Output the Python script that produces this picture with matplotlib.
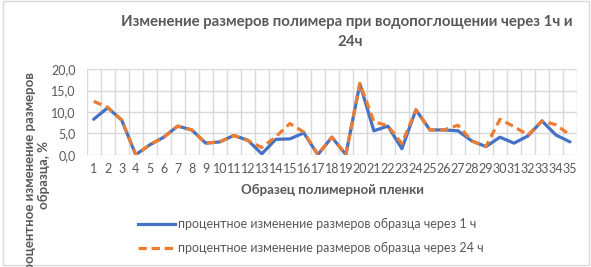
import matplotlib
matplotlib.use("Agg")
import matplotlib.pyplot as plt
from matplotlib.patches import Rectangle
from matplotlib.lines import Line2D

samples = [str(i) for i in range(1, 36)]
change_1h = [8.3, 11.0, 8.1, 0.0, 2.3, 4.1, 6.7, 5.8, 2.7, 3.0,
             4.5, 3.4, 0.2, 3.6, 3.7, 5.1, 0.0, 4.1, 0.0, 16.6,
             5.6, 6.7, 1.4, 10.5, 5.8, 5.8, 5.6, 3.2, 1.9, 4.1,
             2.7, 4.4, 7.9, 4.6, 3.0]
change_24h = [12.5, 11.1, 8.1, 0.0, 2.3, 4.1, 6.7, 5.8, 2.7, 3.0,
              4.5, 3.3, 1.7, 4.2, 7.3, 5.3, 0.0, 4.1, 0.0, 16.7,
              7.7, 6.8, 2.6, 10.5, 5.8, 5.8, 6.9, 3.2, 1.9, 8.3,
              6.6, 4.6, 7.9, 7.0, 4.6]
yticks = [0, 5, 10, 15, 20]
ytick_labels = ["0,0", "5,0", "10,0", "15,0", "20,0"]

title_line1 = "Изменение размеров полимера при водопоглощении через 1ч и"
title_line2 = "24ч"
xlabel = "Образец полимерной пленки"
ylabel = "процентное изменение размеров\nобразца, %"
label_1h = "процентное изменение размеров образца через 1 ч"
label_24h = "процентное изменение размеров образца через 24 ч"

TXT = "#595959"
GRID = "#d9d9d9"
BLUE = "#4472c4"
ORANGE = "#ed7d31"
FONT = ["Lato", "DejaVu Sans"]
LW = 2.3
DASH = (2.6, 1.5)

W, H = 591, 267
fig = plt.figure(figsize=(W / 100, H / 100), dpi=100)
fig.patch.set_facecolor("white")

left, right, top, bottom = 86.7, 577.0, 69.3, 154.7
ax = fig.add_axes([left / W, 1 - bottom / H, (right - left) / W, (bottom - top) / H])

n = len(samples)
xs = list(range(n))
ax.plot(xs, change_1h, color=BLUE, lw=LW, solid_capstyle="round", zorder=3)
ax.plot(xs, change_24h, color=ORANGE, lw=LW, dashes=DASH, zorder=4)

ax.set_xlim(-0.5, n - 0.5)
ax.set_ylim(0, 20)
ax.set_yticks(yticks)
ax.set_yticklabels(ytick_labels, family=FONT, fontsize=9, color=TXT)
ax.set_xticks(xs)
ax.set_xticklabels(samples, family=FONT, fontsize=9, color=TXT)
ax.tick_params(length=0, pad=6)
ax.tick_params(axis="y", pad=8)

for v in yticks:
    ax.axhline(v, color=GRID, lw=1, zorder=1)
for k in range(n + 1):
    ax.axvline(k - 0.5, color=GRID, lw=1, zorder=1)
for s in ax.spines.values():
    s.set_visible(False)

fig.text(347 / W, 1 - 22 / H, title_line1,
         ha="center", va="center", family=FONT, fontsize=10.8, fontweight="bold", color=TXT)
fig.text(350 / W, 1 - 42 / H, title_line2,
         ha="center", va="center", family=FONT, fontsize=10.8, fontweight="bold", color=TXT)

fig.text(332 / W, 1 - 190 / H, xlabel, ha="center", va="center",
         family=FONT, fontsize=9.5, fontweight="bold", color=TXT)

fig.text(37 / W, 1 - 72 / H, ylabel, ha="center", va="top", rotation=90,
         multialignment="center", family=FONT, fontsize=9.5, fontweight="bold",
         color=TXT, linespacing=1.2)

# legend
for yy, col, dash, lab in [(224, BLUE, None, label_1h), (248, ORANGE, DASH, label_24h)]:
    ln = Line2D([138 / W, 175 / W], [1 - yy / H, 1 - yy / H], transform=fig.transFigure,
                color=col, lw=LW)
    if dash:
        ln.set_dashes(dash)
    fig.add_artist(ln)
    fig.text(178 / W, 1 - yy / H, lab, ha="left", va="center",
             family=FONT, fontsize=9, color=TXT)

fig.add_artist(Rectangle((2.5 / W, 1 - 264.5 / H), 586.5 / W, 263.5 / H,
                         transform=fig.transFigure, fill=False, ec="#d9d9d9", lw=1))

fig.savefig("out.png", dpi=100, facecolor="white")
